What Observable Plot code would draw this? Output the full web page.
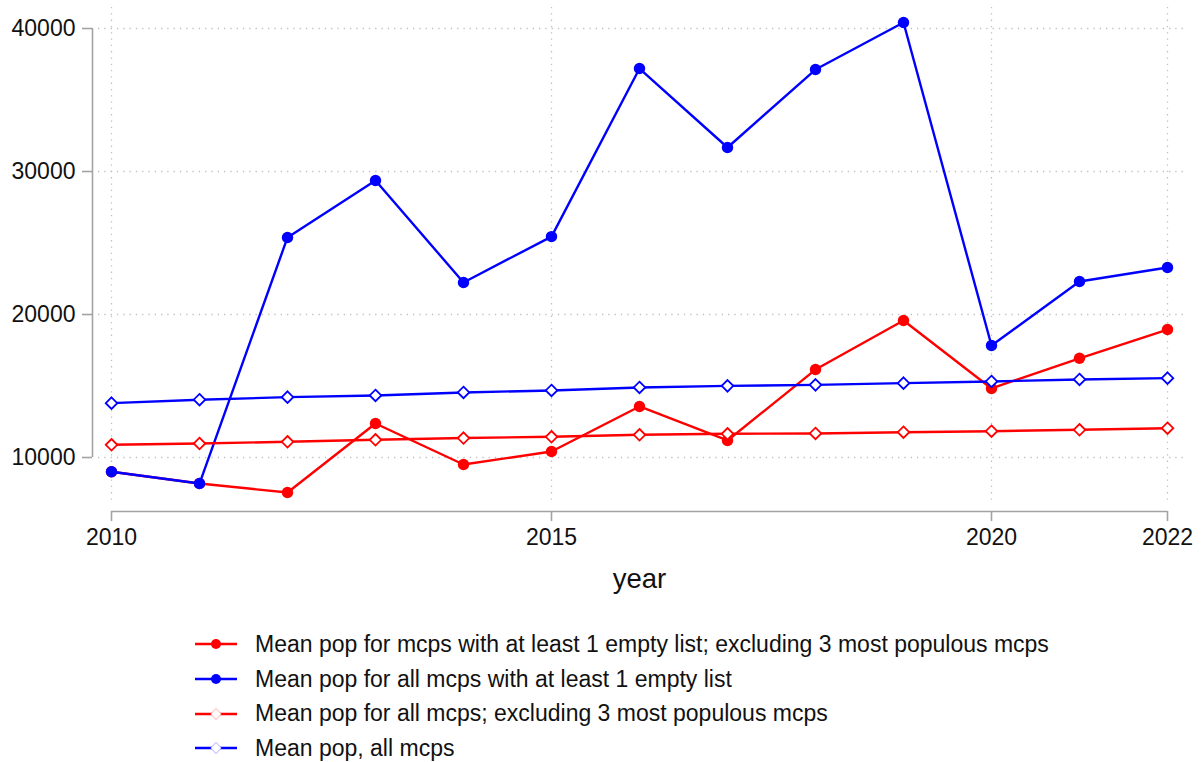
<!DOCTYPE html>
<html>
<head>
<meta charset="utf-8">
<script src="https://cdn.jsdelivr.net/npm/d3@7"></script>
<script src="https://cdn.jsdelivr.net/npm/@observablehq/plot@0.6"></script>
<style>
  body { margin: 0; background: #fff; font-family: "Liberation Sans", Arial, sans-serif; }
  #chart { position: relative; width: 1203px; height: 762px; }
  #legend { position: absolute; left: 195px; top: 627px; font-size: 23px; color: #111; }
  .row { display: flex; align-items: center; height: 34.7px; }
  .row svg { margin-right: 18px; }
</style>
</head>
<body>
<div id="chart"></div>
<script>
// Years observed
const years = [2010, 2011, 2012, 2013, 2014, 2015, 2016, 2017, 2018, 2019, 2020, 2021, 2022];

// Mean population series (one value per year)
const meanEmptyExcl3 = [9000, 8180, 7550, 12380, 9510, 10420, 13570, 11190, 16150, 19580, 14830, 16940, 18950];
const meanEmptyAll   = [9000, 8180, 25390, 29370, 22240, 25450, 37200, 31680, 37130, 40420, 17830, 22310, 23290];
const meanAllExcl3   = [10890, 10980, 11100, 11240, 11360, 11450, 11590, 11660, 11680, 11770, 11840, 11940, 12050];
const meanAll        = [13800, 14040, 14220, 14340, 14550, 14690, 14900, 15010, 15080, 15200, 15320, 15460, 15550];

const seriesNames = [
  "Mean pop for mcps with at least 1 empty list; excluding 3 most populous mcps",
  "Mean pop for all mcps with at least 1 empty list",
  "Mean pop for all mcps; excluding 3 most populous mcps",
  "Mean pop, all mcps"
];
const seriesColors = ["#ff0000", "#0000ff", "#ff0000", "#0000ff"];
const seriesFilled = [true, true, false, false];

const xTicks = [2010, 2015, 2020, 2022];
const yTicks = [10000, 20000, 30000, 40000];

const toRows = (vals) => years.map((year, i) => ({year, value: vals[i]}));
const series = [meanEmptyExcl3, meanEmptyAll, meanAllExcl3, meanAll].map(toRows);

const axisGray = "#a3a3a3";
const gridGray = "#c0c0c0";

const marks = [
  // dotted grid
  Plot.ruleY(yTicks, {y: d => d, stroke: gridGray, strokeWidth: 1.3, strokeDasharray: "1.3,5", insetLeft: -13, insetRight: -18}),
  Plot.ruleX(xTicks, {x: d => d, stroke: gridGray, strokeWidth: 1.3, strokeDasharray: "1.3,5", insetBottom: 7}),
  // axis lines limited to the tick span
  Plot.ruleX([2010], {x: d => d, y1: 10000, y2: 40000, dx: -19, stroke: axisGray, strokeWidth: 1.6}),
  Plot.ruleY([6224], {y: d => d, x1: 2010, x2: 2022, stroke: axisGray, strokeWidth: 1.6}),
  Plot.axisY(yTicks, {anchor: "left", dx: -19, tickSize: 10, tickPadding: 7, stroke: axisGray, strokeWidth: 1.6,
    tickFormat: d => String(d), fontSize: 23, fill: "#111", label: null}),
  Plot.axisX(xTicks, {anchor: "bottom", tickSize: 10, tickPadding: 7, stroke: axisGray, strokeWidth: 1.6,
    tickFormat: d => String(d), fontSize: 23, fill: "#111", label: null}),
  Plot.text(["year"], {frameAnchor: "bottom", dy: 68, fontSize: 27.5, fill: "#111", lineAnchor: "middle"})
];

series.forEach((rows, i) => {
  marks.push(Plot.line(rows, {x: "year", y: "value", stroke: seriesColors[i], strokeWidth: 2.4}));
  if (seriesFilled[i]) {
    marks.push(Plot.dot(rows, {x: "year", y: "value", r: 5.7, fill: seriesColors[i], stroke: "none"}));
  } else {
    marks.push(Plot.dot(rows, {x: "year", y: "value", symbol: "diamond2", r: 5.2, fill: "white", stroke: seriesColors[i], strokeWidth: 1.8}));
  }
});

const chart = Plot.plot({
  width: 1203,
  height: 600,
  marginLeft: 111,
  marginRight: 36,
  marginTop: 7,
  marginBottom: 89,
  style: {fontFamily: "'Liberation Sans', Arial, sans-serif", background: "white"},
  x: {domain: [2010, 2022], axis: null},
  y: {domain: [6224, 41470], axis: null},
  marks
});

const container = document.getElementById("chart");
container.appendChild(chart);

// Legend below the plot
const legend = document.createElement("div");
legend.id = "legend";
seriesNames.forEach((name, i) => {
  const row = document.createElement("div");
  row.className = "row";
  const c = seriesColors[i];
  const marker = seriesFilled[i]
    ? `<circle cx="21" cy="10" r="5" fill="${c}"/>`
    : `<path d="M21,4.5 L26.5,10 L21,15.5 L15.5,10 Z" fill="white" stroke="${c}" stroke-opacity="0.18" stroke-width="1.4"/>`;
  row.innerHTML = `<svg width="42" height="20"><line x1="0" y1="10" x2="42" y2="10" stroke="${c}" stroke-width="2.4"/>${marker}</svg><span>${name}</span>`;
  legend.appendChild(row);
});
container.appendChild(legend);
</script>
</body>
</html>
